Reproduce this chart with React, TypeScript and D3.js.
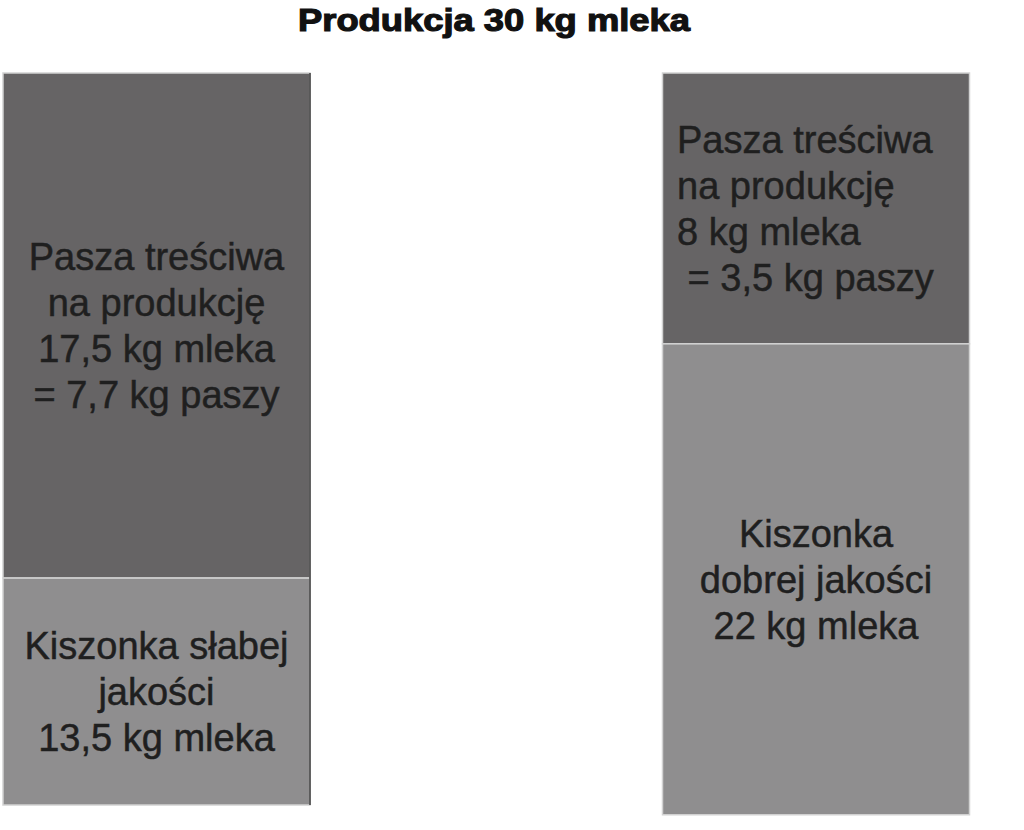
import { useEffect } from "react";
import * as d3 from "d3";

// two feeding variants, each bar = concentrate on top, silage below
const title = "Produkcja 30 kg mleka";
const bars = ["Kiszonka słabej jakości", "Kiszonka dobrej jakości"];

// segment heights as drawn in the picture (bar total ~ 30)
const barBase = [0, -0.4];
const silageShare = [9.3, 19.3];
const concentrateShare = [20.7, 11.1];

const concentrateLabels = [
    ["Pasza treściwa", "na produkcję", "17,5 kg mleka", "= 7,7 kg paszy"],
    ["Pasza treściwa", "na produkcję", "8 kg mleka", " = 3,5 kg paszy"],
];
const silageLabels = [
    ["Kiszonka słabej", "jakości", "13,5 kg mleka"],
    ["Kiszonka", "dobrej jakości", "22 kg mleka"],
];

const width = 1024;
const height = 830;
const fontSize = 38;
const lineHeight = 46;
const capHeight = fontSize * 0.716;

const darkFill = "#666465";
const lightFill = "#8f8e8f";
const edge = "#d2d2d2";
const ink = "#1f1f1f";

export default function App() {
    useEffect(() => {
        document.body.style.margin = "0";
    }, []);

    const x = d3.scaleBand<string>()
        .domain(bars)
        .range([3, 969.5])
        .paddingInner(0.5345)
        .paddingOuter(0);

    const y = d3.scaleLinear()
        .domain([0, 30])
        .range([805, 73]);

    const textBlock = (lines: string[], cx: number, cy: number, anchor: string) => {
        const first = cy - ((lines.length - 1) * lineHeight) / 2 + capHeight / 2;
        return lines.map((l, j) => (
            <text
                key={j}
                x={cx}
                y={first + j * lineHeight}
                textAnchor={anchor}
                fontSize={fontSize}
                fill={ink}
                stroke={ink}
                strokeWidth={0.5}
                style={{ whiteSpace: "pre" }}
            >
                {l}
            </text>
        ));
    };

    return (
        <svg width={width} height={height} style={{ display: "block", background: "white" }}
            fontFamily="'Liberation Sans', Arial, sans-serif">
            <text x={494} y={31} textAnchor="middle" fontWeight="bold" fontSize={32}
                textLength={392} lengthAdjust="spacingAndGlyphs" fill="#111"
                stroke="#111" strokeWidth={1.2}>
                {title}
            </text>
            {bars.map((b, i) => {
                const x0 = x(b) ?? 0;
                const bw = x.bandwidth();
                const base = barBase[i];
                const mid = base + silageShare[i];
                const top = mid + concentrateShare[i];
                const silTop = y(mid);
                const silBot = y(base);
                const conTop = y(top);
                // left bar text centred, right bar text flush left in the box
                const conAnchor = i === 0 ? "middle" : "start";
                const conX = i === 0 ? x0 + bw / 2 : x0 + 14.5;
                return (
                    <g key={b}>
                        <rect x={x0} y={conTop} width={bw} height={silTop - conTop}
                            fill={darkFill} stroke={edge} strokeWidth={1.5} />
                        <rect x={x0} y={silTop} width={bw} height={silBot - silTop}
                            fill={lightFill} stroke={edge} strokeWidth={1.5} />
                        {i === 0 && (
                            <line x1={x0 + bw} x2={x0 + bw} y1={conTop} y2={silBot}
                                stroke="#3a3a3a" strokeWidth={1.5} />
                        )}
                        {textBlock(concentrateLabels[i], conX, (conTop + silTop) / 2, conAnchor)}
                        {textBlock(silageLabels[i], x0 + bw / 2, (silTop + silBot) / 2, "middle")}
                    </g>
                );
            })}
        </svg>
    );
}
